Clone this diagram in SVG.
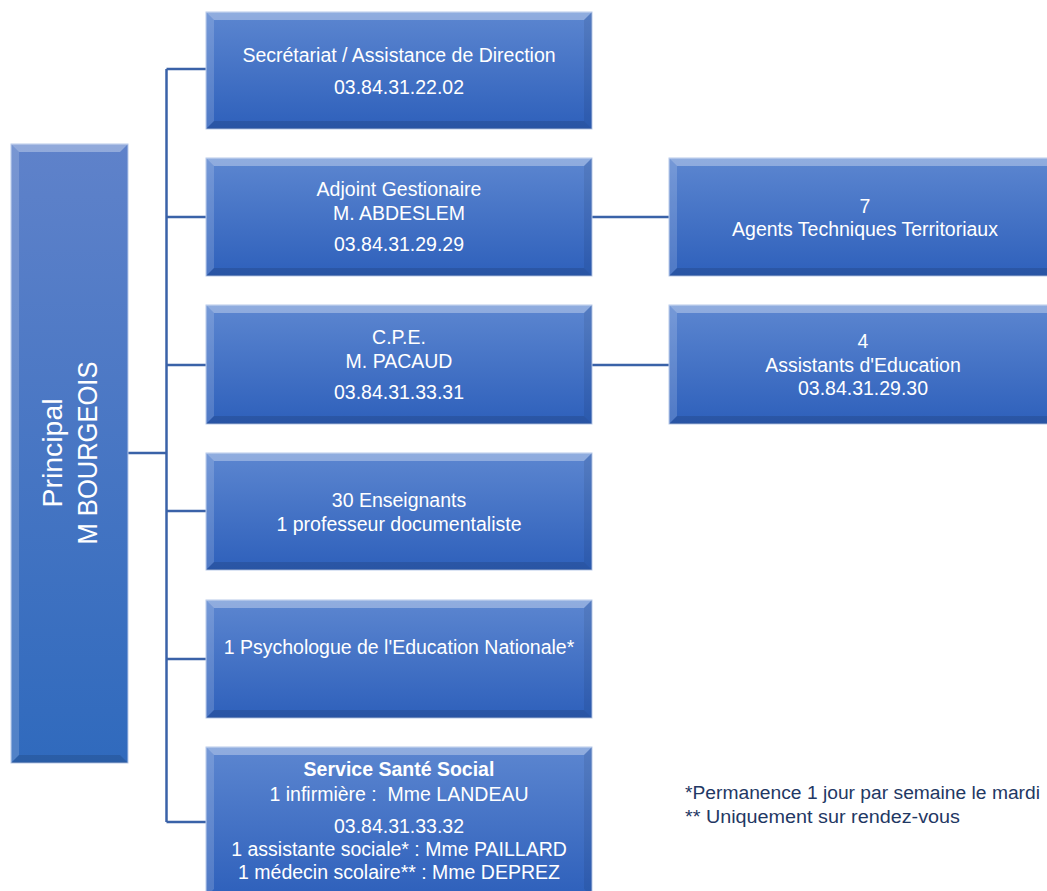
<svg xmlns="http://www.w3.org/2000/svg" width="1047" height="891" viewBox="0 0 1047 891">
<defs>
<linearGradient id="gBox" x1="0" y1="0" x2="0" y2="1">
<stop offset="0" stop-color="#5c86d0"/>
<stop offset="1" stop-color="#2e60bb"/>
</linearGradient>
<linearGradient id="gPrin" x1="0" y1="0" x2="0" y2="1">
<stop offset="0" stop-color="#5f82ca"/>
<stop offset="1" stop-color="#306abd"/>
</linearGradient>
<style>
.box{fill:url(#gBox);stroke:#b7c9ea;stroke-width:1}
.prin{fill:url(#gPrin);stroke:#b7c9ea;stroke-width:1}
.bt{fill:#ffffff;fill-opacity:0.32}
.bl{fill:#ffffff;fill-opacity:0.16}
.br{fill:#000000;fill-opacity:0.07}
.bb{fill:#000000;fill-opacity:0.12}
.t{font-family:"Liberation Sans",Arial,sans-serif;font-size:19.5px;fill:#ffffff;text-anchor:middle}
.tb{font-weight:bold}
.pt{font-family:"Liberation Sans",Arial,sans-serif;font-size:27px;fill:#ffffff;text-anchor:middle}
.fn{font-family:"Liberation Sans",Arial,sans-serif;font-size:18px;fill:#1f3864}
.c{fill:none;stroke:#3a62a8;stroke-width:2.5}
</style>
</defs>
<g id="connectors">
<path class="c" d="M166.5,69 V822"/>
<path class="c" d="M128,453 H166.5"/>
<path class="c" d="M166.5,69 H206"/>
<path class="c" d="M166.5,217 H206"/>
<path class="c" d="M166.5,365 H206"/>
<path class="c" d="M166.5,511 H206"/>
<path class="c" d="M166.5,659 H206"/>
<path class="c" d="M166.5,822 H206"/>
<path class="c" d="M592,217 H669"/>
<path class="c" d="M592,365 H669"/>
</g>
<g id="principal">
<rect class="prin" x="11" y="144" width="117" height="619"/>
<polygon class="bt" points="11,144 128,144 120,152 19,152"/>
<polygon class="bl" points="11,144 19,152 19,755 11,763"/>
<polygon class="bb" points="11,763 128,763 120,755 19,755" fill-opacity="0.06"/>
<text class="pt" transform="translate(62,453) rotate(-90)" textLength="109" lengthAdjust="spacingAndGlyphs">Principal</text>
<text class="pt" transform="translate(97,453) rotate(-90)" textLength="183" lengthAdjust="spacingAndGlyphs">M BOURGEOIS</text>
</g>
<g id="secretariat">
<rect class="box" x="206" y="12" width="386" height="117"/>
<polygon class="bt" points="206,12 592,12 584,20 214,20"/>
<polygon class="bl" points="206,12 214,20 214,121 206,129"/>
<polygon class="br" points="592,12 592,129 584,121 584,20"/>
<polygon class="bb" points="206,129 592,129 584,121 214,121"/>
<text class="t" x="399" y="62">Secrétariat / Assistance de Direction</text>
<text class="t" x="399" y="94">03.84.31.22.02</text>
</g>
<g id="adjoint">
<rect class="box" x="206" y="158" width="386" height="118"/>
<polygon class="bt" points="206,158 592,158 584,166 214,166"/>
<polygon class="bl" points="206,158 214,166 214,268 206,276"/>
<polygon class="br" points="592,158 592,276 584,268 584,166"/>
<polygon class="bb" points="206,276 592,276 584,268 214,268"/>
<text class="t" x="399" y="196">Adjoint Gestionaire</text>
<text class="t" x="399" y="220">M. ABDESLEM</text>
<text class="t" x="399" y="251">03.84.31.29.29</text>
</g>
<g id="cpe">
<rect class="box" x="206" y="305" width="386" height="119"/>
<polygon class="bt" points="206,305 592,305 584,313 214,313"/>
<polygon class="bl" points="206,305 214,313 214,416 206,424"/>
<polygon class="br" points="592,305 592,424 584,416 584,313"/>
<polygon class="bb" points="206,424 592,424 584,416 214,416"/>
<text class="t" x="399" y="344">C.P.E.</text>
<text class="t" x="399" y="368">M. PACAUD</text>
<text class="t" x="399" y="399">03.84.31.33.31</text>
</g>
<g id="enseignants">
<rect class="box" x="206" y="453" width="386" height="117"/>
<polygon class="bt" points="206,453 592,453 584,461 214,461"/>
<polygon class="bl" points="206,453 214,461 214,562 206,570"/>
<polygon class="br" points="592,453 592,570 584,562 584,461"/>
<polygon class="bb" points="206,570 592,570 584,562 214,562"/>
<text class="t" x="399" y="507">30 Enseignants</text>
<text class="t" x="399" y="531">1 professeur documentaliste</text>
</g>
<g id="psychologue">
<rect class="box" x="206" y="600" width="386" height="118"/>
<polygon class="bt" points="206,600 592,600 584,608 214,608"/>
<polygon class="bl" points="206,600 214,608 214,710 206,718"/>
<polygon class="br" points="592,600 592,718 584,710 584,608"/>
<polygon class="bb" points="206,718 592,718 584,710 214,710"/>
<text class="t" x="399" y="654">1 Psychologue de l'Education Nationale*</text>
</g>
<g id="sante">
<rect class="box" x="206" y="747" width="386" height="150"/>
<polygon class="bt" points="206,747 592,747 584,755 214,755"/>
<polygon class="bl" points="206,747 214,755 214,889 206,897"/>
<polygon class="br" points="592,747 592,897 584,889 584,755"/>
<text class="t tb" x="399" y="776">Service Santé Social</text>
<text class="t" x="399" y="801" xml:space="preserve">1 infirmière :  Mme LANDEAU</text>
<text class="t" x="399" y="833">03.84.31.33.32</text>
<text class="t" x="399" y="856">1 assistante sociale* : Mme PAILLARD</text>
<text class="t" x="399" y="879">1 médecin scolaire** : Mme DEPREZ</text>
</g>
<g id="agents">
<rect class="box" x="669" y="158" width="392" height="118"/>
<polygon class="bt" points="669,158 1061,158 1053,166 677,166"/>
<polygon class="bl" points="669,158 677,166 677,268 669,276"/>
<polygon class="bb" points="669,276 1061,276 1053,268 677,268"/>
<text class="t" x="865" y="213">7</text>
<text class="t" x="865" y="236">Agents Techniques Territoriaux</text>
</g>
<g id="assistants">
<rect class="box" x="669" y="305" width="392" height="119"/>
<polygon class="bt" points="669,305 1061,305 1053,313 677,313"/>
<polygon class="bl" points="669,305 677,313 677,416 669,424"/>
<polygon class="bb" points="669,424 1061,424 1053,416 677,416"/>
<text class="t" x="863" y="348">4</text>
<text class="t" x="863" y="372">Assistants d'Education</text>
<text class="t" x="863" y="395">03.84.31.29.30</text>
</g>
<g id="notes">
<text class="fn" x="685" y="799" textLength="355" lengthAdjust="spacingAndGlyphs">*Permanence 1 jour par semaine le mardi</text>
<text class="fn" x="685" y="823" textLength="275" lengthAdjust="spacingAndGlyphs">** Uniquement sur rendez-vous</text>
</g>
</svg>
